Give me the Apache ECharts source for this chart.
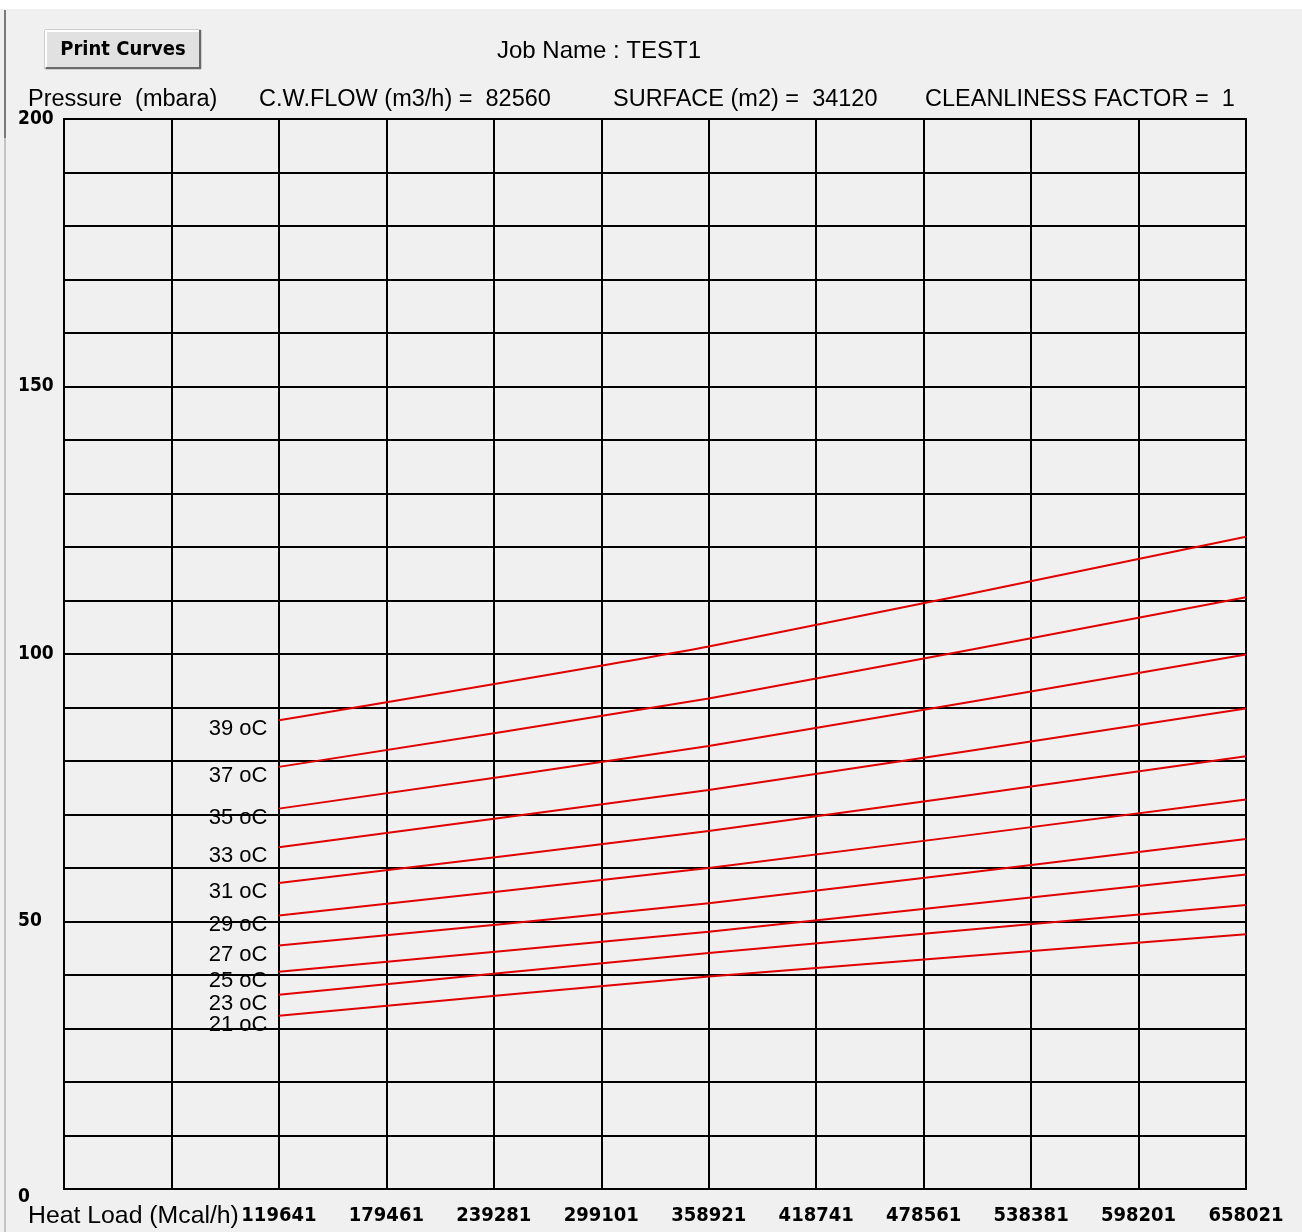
<!DOCTYPE html>
<html>
<head>
<meta charset="utf-8">
<script src="https://cdn.jsdelivr.net/npm/echarts@6/dist/echarts.min.js"></script>
<style>
html,body{margin:0;padding:0;background:#f0f0f0;}
#main{width:1302px;height:1232px;}
</style>
</head>
<body>
<div id="main"></div>
<script>
// ---- Data ----
const heatLoadLabels = ['', '', '119641', '179461', '239281', '299101', '358921', '418741', '478561', '538381', '598201', '658021'];
const pressureTicks = [0, 50, 100, 150, 200];
const readAt = ['119641', '358921', '658021'];
const tempNames = ['39 oC', '37 oC', '35 oC', '33 oC', '31 oC', '29 oC', '27 oC', '25 oC', '23 oC', '21 oC'];
const t39 = [87.6, 101.4, 121.9];
const t37 = [78.9, 91.7, 110.6];
const t35 = [71.1, 82.8, 99.9];
const t33 = [63.9, 74.6, 89.8];
const t31 = [57.2, 66.9, 80.9];
const t29 = [51.1, 60.0, 72.8];
const t27 = [45.5, 53.4, 65.4];
const t25 = [40.6, 48.1, 58.8];
const t23 = [36.3, 44.1, 53.1];
const t21 = [32.4, 39.7, 47.6];
const tempSeries = [t39, t37, t35, t33, t31, t29, t27, t25, t23, t21];

const headerTexts = [
  {text: 'Pressure  (mbara)', x: 28},
  {text: 'C.W.FLOW (m3/h) =  82560', x: 259},
  {text: 'SURFACE (m2) =  34120', x: 613},
  {text: 'CLEANLINESS FACTOR =  1', x: 925}
];
const jobName = 'Job Name : TEST1';
const buttonText = 'Print Curves';
const xAxisTitle = 'Heat Load (Mcal/h)';

// ---- Chart ----
const TXT = "'Liberation Sans', Arial, sans-serif";
const NUM = "'DejaVu Sans Condensed', 'Liberation Sans Narrow', 'Liberation Sans', sans-serif";
const RED = '#e00000';

const chart = echarts.init(document.getElementById('main'));

const series = tempSeries.map((vals, i) => ({
  type: 'line',
  name: tempNames[i],
  smooth: 0.2,
  symbol: 'circle',
  symbolSize: 1,
  showSymbol: true,
  lineStyle: {color: RED, width: 2},
  itemStyle: {color: RED},
  emphasis: {disabled: true},
  animation: false,
  data: vals.map((v, j) => {
    const item = {value: [readAt[j], v]};
    if (j === 0) {
      item.label = {
        show: true,
        position: 'left',
        distance: 11,
        offset: [0, 9],
        formatter: tempNames[i],
        color: '#000',
        fontFamily: TXT,
        fontSize: 22
      };
    } else {
      item.label = {show: false};
    }
    return item;
  })
}));

const graphics = [
  {type: 'rect', shape: {x: 0, y: 0, width: 1302, height: 9}, style: {fill: '#ffffff'}, silent: true},
  {type: 'rect', shape: {x: 4, y: 10, width: 2, height: 1222}, style: {fill: '#c4c4c4'}, silent: true},
  {type: 'rect', shape: {x: 4, y: 10, width: 2, height: 128}, style: {fill: '#7a7a7a'}, silent: true},
  // button
  {type: 'rect', shape: {x: 45, y: 30, width: 156, height: 39}, style: {fill: '#e1e1e1', stroke: '#adadad', lineWidth: 1}, silent: true},
  {type: 'polyline', shape: {points: [[46, 67], [46, 31], [199, 31]]}, style: {stroke: '#ffffff', lineWidth: 2, fill: null}, silent: true},
  {type: 'polyline', shape: {points: [[46, 68], [200, 68], [200, 30]]}, style: {stroke: '#696969', lineWidth: 2, fill: null}, silent: true},
  {type: 'text', style: {text: buttonText, x: 123, y: 50, align: 'center', verticalAlign: 'middle', fontFamily: NUM, fontWeight: 'bold', fontSize: 20, fill: '#000'}, silent: true},
  {type: 'text', style: {text: jobName, x: 599, y: 51, align: 'center', verticalAlign: 'middle', fontFamily: TXT, fontSize: 24, fill: '#000'}, silent: true},
  {type: 'text', style: {text: xAxisTitle, x: 28, y: 1216, align: 'left', verticalAlign: 'middle', fontFamily: TXT, fontSize: 24.8, fill: '#000'}, silent: true}
];
headerTexts.forEach(h => graphics.push({
  type: 'text', style: {text: h.text, x: h.x, y: 100, align: 'left', verticalAlign: 'middle', fontFamily: TXT, fontSize: 23.5, fill: '#000'}, silent: true
}));

chart.setOption({
  backgroundColor: '#f0f0f0',
  animation: false,
  grid: {left: 64, right: 56, top: 119, bottom: 43, show: true, borderColor: '#000', borderWidth: 2, backgroundColor: 'transparent'},
  xAxis: {
    type: 'category',
    boundaryGap: false,
    data: heatLoadLabels,
    axisLine: {show: true, lineStyle: {color: '#000', width: 2}},
    axisTick: {show: false},
    splitLine: {show: true, lineStyle: {color: '#000', width: 2}},
    axisLabel: {interval: 0, color: '#000', fontFamily: NUM, fontWeight: 'bold', fontSize: 20, margin: 17}
  },
  yAxis: {
    type: 'value',
    min: 0,
    max: 200,
    interval: 10,
    axisLine: {show: true, lineStyle: {color: '#000', width: 2}},
    axisTick: {show: false},
    splitLine: {show: true, lineStyle: {color: '#000', width: 2}},
    axisLabel: {
      color: '#000', fontFamily: NUM, fontWeight: 'bold', fontSize: 19, align: 'left', margin: 46,
      formatter: v => pressureTicks.indexOf(v) < 0 ? '' : (v === 0 ? '{low|0}' : String(v)),
      rich: {low: {padding: [16, 0, 0, 0], color: '#000', fontFamily: NUM, fontWeight: 'bold', fontSize: 19}}
    }
  },
  graphic: graphics,
  series: series
});
</script>
</body>
</html>
